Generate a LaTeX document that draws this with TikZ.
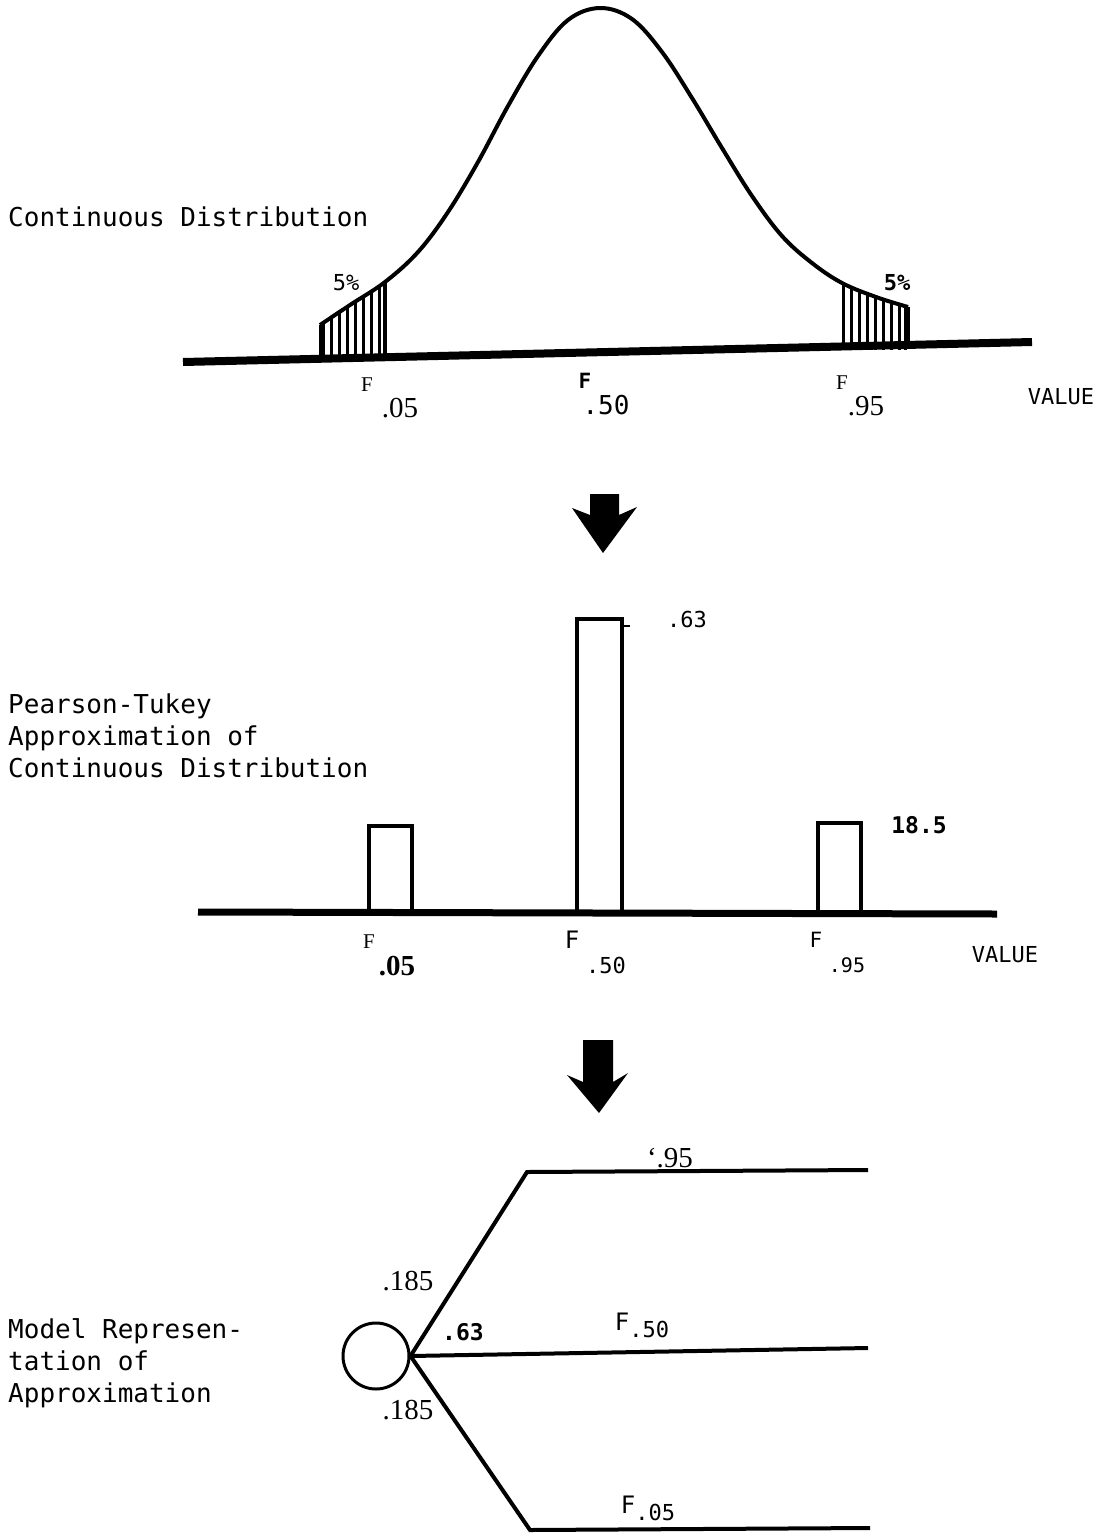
\documentclass[tikz,border=0pt]{standalone}
\usepackage{fontspec}
\setmainfont{Liberation Serif}
\setmonofont{DejaVu Sans Mono}
\begin{document}
\begin{tikzpicture}[x=1pt,y=-1pt,
  mono/.style={font=\fontsize{26}{30}\selectfont\ttfamily,inner sep=0pt},
  serif/.style={font=\fontsize{29}{32}\selectfont,inner sep=0pt},
  sup/.style={font=\fontsize{21}{24}\selectfont,inner sep=0pt},
  supmono/.style={font=\fontsize{21}{24}\selectfont\ttfamily,inner sep=0pt},
  axis/.style={line width=8pt},
  bar/.style={line width=4pt,line join=miter},
  branch/.style={line width=4pt},
  hatch/.style={line width=3pt},
  bigarrow/.style={fill=black}]
\useasboundingbox (0,0) rectangle (1104,1537);
% ---------- top: continuous distribution ----------
\def\bell{(320,325) (350,305) (385,282) (418,252) (448,212) (478,162) (508,106) (538,56) (568,20) (600,8) (632,19) (662,52) (692,98) (722,148) (752,196) (782,236) (812,263) (842,283) (876,297) (908,307)}
\begin{scope}
  \clip plot[smooth,tension=0.6] coordinates {\bell} -- (908,400) -- (320,400) -- cycle;
  \foreach \x in {323,331,339,347,355,363,371,379} \draw[hatch] (\x,250) -- (\x,360);
  \draw[line width=4pt] (385,250) -- (385,360);
  \foreach \x in {843,851,859,867,875,883,891,899,905} \draw[hatch] (\x,250) -- (\x,350);
\end{scope}
\draw[line width=4pt] plot[smooth,tension=0.6] coordinates {\bell};
\draw[line width=3pt] (320,325) -- (320,356);
\draw[line width=3pt] (908,307) -- (908,346);
\coordinate (a1l) at (183,362); \coordinate (a1r) at (1032,342);
\draw[axis] (a1l) -- (a1r);
\node[mono,anchor=base west] (t1) at (8,226) {Continuous Distribution};
\node[font=\fontsize{22}{24}\selectfont\ttfamily,inner sep=0pt] (p1) at (346,283) {5\%};
\node[font=\fontsize{22}{24}\selectfont\ttfamily\bfseries,inner sep=0pt] (p2) at (897,283) {5\%};
\node[sup] (f1) at (367,385) {F};
\node[serif] (f1s) at (400,408) {.05};
\node[font=\fontsize{21}{24}\selectfont\ttfamily\bfseries,inner sep=0pt] (f2) at (585,381) {F};
\node[mono] (f2s) at (606,405) {.50};
\node[sup] (f3) at (842,383) {F};
\node[serif] (f3s) at (866,406) {.95};
\node[mono,font=\fontsize{22}{24}\selectfont\ttfamily] (v1) at (1061,397) {VALUE};
% ---------- arrow 1 ----------
\fill[bigarrow] (590,494) -- (619,494) -- (619,515) -- (637,507) -- (603,553) -- (572,508) -- (590,515) -- cycle;
% ---------- middle: Pearson-Tukey ----------
\node[mono,anchor=base west] (t2a) at (8,713) {Pearson-Tukey};
\node[mono,anchor=base west] (t2b) at (8,745) {Approximation of};
\node[mono,anchor=base west] (t2c) at (8,777) {Continuous Distribution};
\draw[bar] (369,912) -- (369,826) -- (412,826) -- (412,912);
\draw[bar] (577,912) -- (577,619) -- (622,619) -- (622,912);
\draw[bar] (818,912) -- (818,823) -- (861,823) -- (861,912);
\draw[line width=1.5pt] (622,626) -- (630,626);
\coordinate (a2l) at (198,912); \coordinate (a2r) at (997,914);
\draw[axis,line width=7pt] (a2l) -- (a2r);
\node[mono,font=\fontsize{22}{24}\selectfont\ttfamily] (l63) at (687,619) {.63};
\node[mono,font=\fontsize{23}{24}\selectfont\ttfamily\bfseries] (l185) at (919,825) {18.5};
\node[sup] (g1) at (369,942) {F};
\node[serif,font=\fontsize{29}{32}\selectfont\bfseries] (g1s) at (397,966) {.05};
\node[mono,font=\fontsize{24}{24}\selectfont\ttfamily] (g2) at (572,940) {F};
\node[mono,font=\fontsize{22}{24}\selectfont\ttfamily] (g2s) at (606,965) {.50};
\node[supmono] (g3) at (816,940) {F};
\node[mono,font=\fontsize{20}{24}\selectfont\ttfamily] (g3s) at (847,965) {.95};
\node[mono,font=\fontsize{22}{24}\selectfont\ttfamily] (v2) at (1005,955) {VALUE};
% ---------- arrow 2 ----------
\fill[bigarrow] (583,1040) -- (613,1040) -- (613,1082) -- (628,1073) -- (599,1113) -- (567,1075) -- (583,1082) -- cycle;
% ---------- bottom: model ----------
\node[mono,anchor=base west] (t3a) at (8,1338) {Model Represen-};
\node[mono,anchor=base west] (t3b) at (8,1370) {tation of};
\node[mono,anchor=base west] (t3c) at (8,1402) {Approximation};
\node[circle,draw,line width=3pt,minimum size=66pt,inner sep=0pt] (chance) at (376,1356) {};
\coordinate (c1) at (527,1172); \coordinate (e1) at (868,1170);
\coordinate (e2) at (868,1348);
\coordinate (c3) at (530,1530); \coordinate (e3) at (870,1528);
\draw[branch,line join=miter] (chance.east) -- (c1) -- (e1);
\draw[branch] (chance.east) -- (e2);
\draw[branch,line join=miter] (chance.east) -- (c3) -- (e3);
\node[serif] (b95) at (670,1158) {`.95};
\node[serif,anchor=base] (b185a) at (408,1290) {.185};
\node[mono,font=\fontsize{23}{24}\selectfont\ttfamily\bfseries] (b63) at (463,1332) {.63};
\node[inner sep=0pt] (b50) at (642,1325) {\fontsize{24}{24}\selectfont\ttfamily F\raisebox{-7pt}{\fontsize{22}{24}\selectfont.50}};
\node[serif,anchor=base] (b185b) at (408,1419) {.185};
\node[inner sep=0pt] (b05) at (648,1508) {\fontsize{24}{24}\selectfont\ttfamily F\raisebox{-7pt}{\fontsize{22}{24}\selectfont.05}};
\end{tikzpicture}
\end{document}
